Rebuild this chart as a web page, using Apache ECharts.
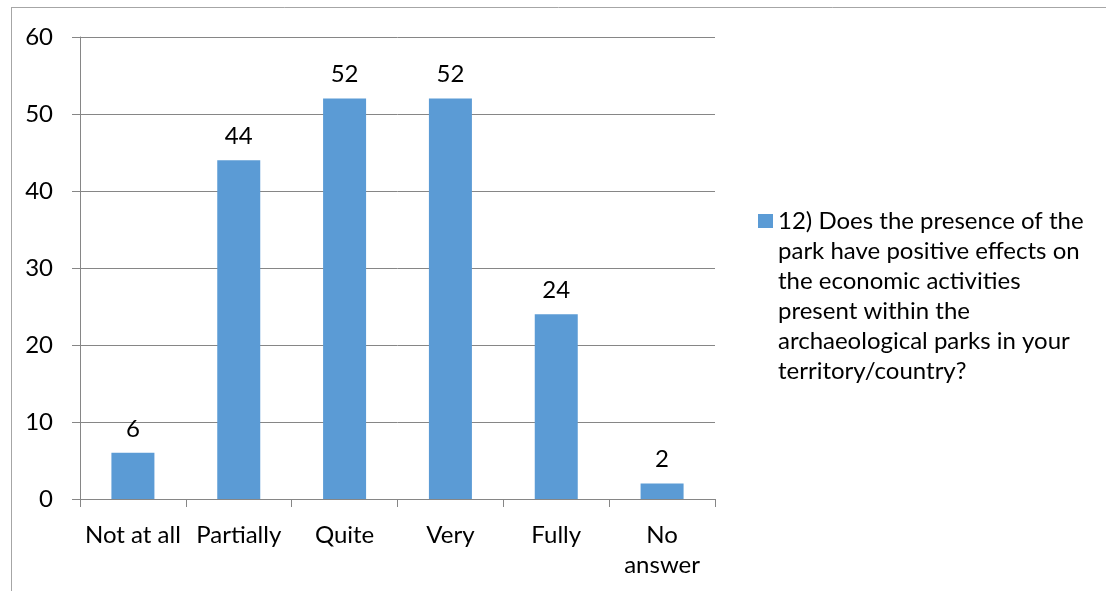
<!DOCTYPE html>
<html><head><meta charset="utf-8">
<script src="https://cdn.jsdelivr.net/npm/echarts@6/dist/echarts.min.js"></script>
<style>html,body{margin:0;padding:0;background:#fff}#c{width:1106px;height:591px}</style>
</head><body><div id="c"></div>
<script>
const categories = ['Not at all', 'Partially', 'Quite', 'Very', 'Fully', 'No\nanswer'];
const values = [6, 44, 52, 52, 24, 2];
const seriesName = '12) Does the presence of the\npark have positive effects on\nthe economic activities\npresent within the\narchaeological parks in your\nterritory/country?';
const FONT = 'Lato';
const chart = echarts.init(document.getElementById('c'));
chart.setOption({
  animation: false,
  backgroundColor: '#fff',
  graphic: [
    {type: 'line', shape: {x1: 11, y1: 7.5, x2: 1106, y2: 7.5}, style: {stroke: '#a6a6a6', lineWidth: 1}},
    {type: 'line', shape: {x1: 11.5, y1: 7, x2: 11.5, y2: 591}, style: {stroke: '#a6a6a6', lineWidth: 1}}
  ],
  grid: {left: 80, right: 391, top: 37, bottom: 92},
  legend: {
    left: 758, top: 56, padding: 0, itemWidth: 15, itemHeight: 14, itemGap: 0,
    icon: 'rect',
    data: [seriesName],
    formatter: function (n) { return '\n\n\n\n\n' + n; },
    textStyle: {fontFamily: FONT, fontSize: 24, color: '#000', lineHeight: 30}
  },
  xAxis: {
    type: 'category', data: categories,
    axisLine: {lineStyle: {color: '#868686'}},
    axisTick: {show: true, length: 8, lineStyle: {color: '#868686'}},
    axisLabel: {fontFamily: FONT, fontSize: 24, color: '#000', margin: 21, lineHeight: 30, interval: 0}
  },
  yAxis: {
    type: 'value', min: 0, max: 60, interval: 10,
    axisLine: {show: true, lineStyle: {color: '#868686'}},
    axisTick: {show: true, length: 8, lineStyle: {color: '#868686'}},
    splitLine: {lineStyle: {color: '#868686'}},
    axisLabel: {fontFamily: FONT, fontSize: 24, color: '#000', margin: 27}
  },
  series: [{
    name: seriesName, type: 'bar', data: values, barWidth: 43,
    itemStyle: {color: '#5B9BD5'},
    label: {show: true, position: 'top', distance: 12, fontFamily: FONT, fontSize: 24, lineHeight: 24, color: '#000'}
  }]
});
</script></body></html>
